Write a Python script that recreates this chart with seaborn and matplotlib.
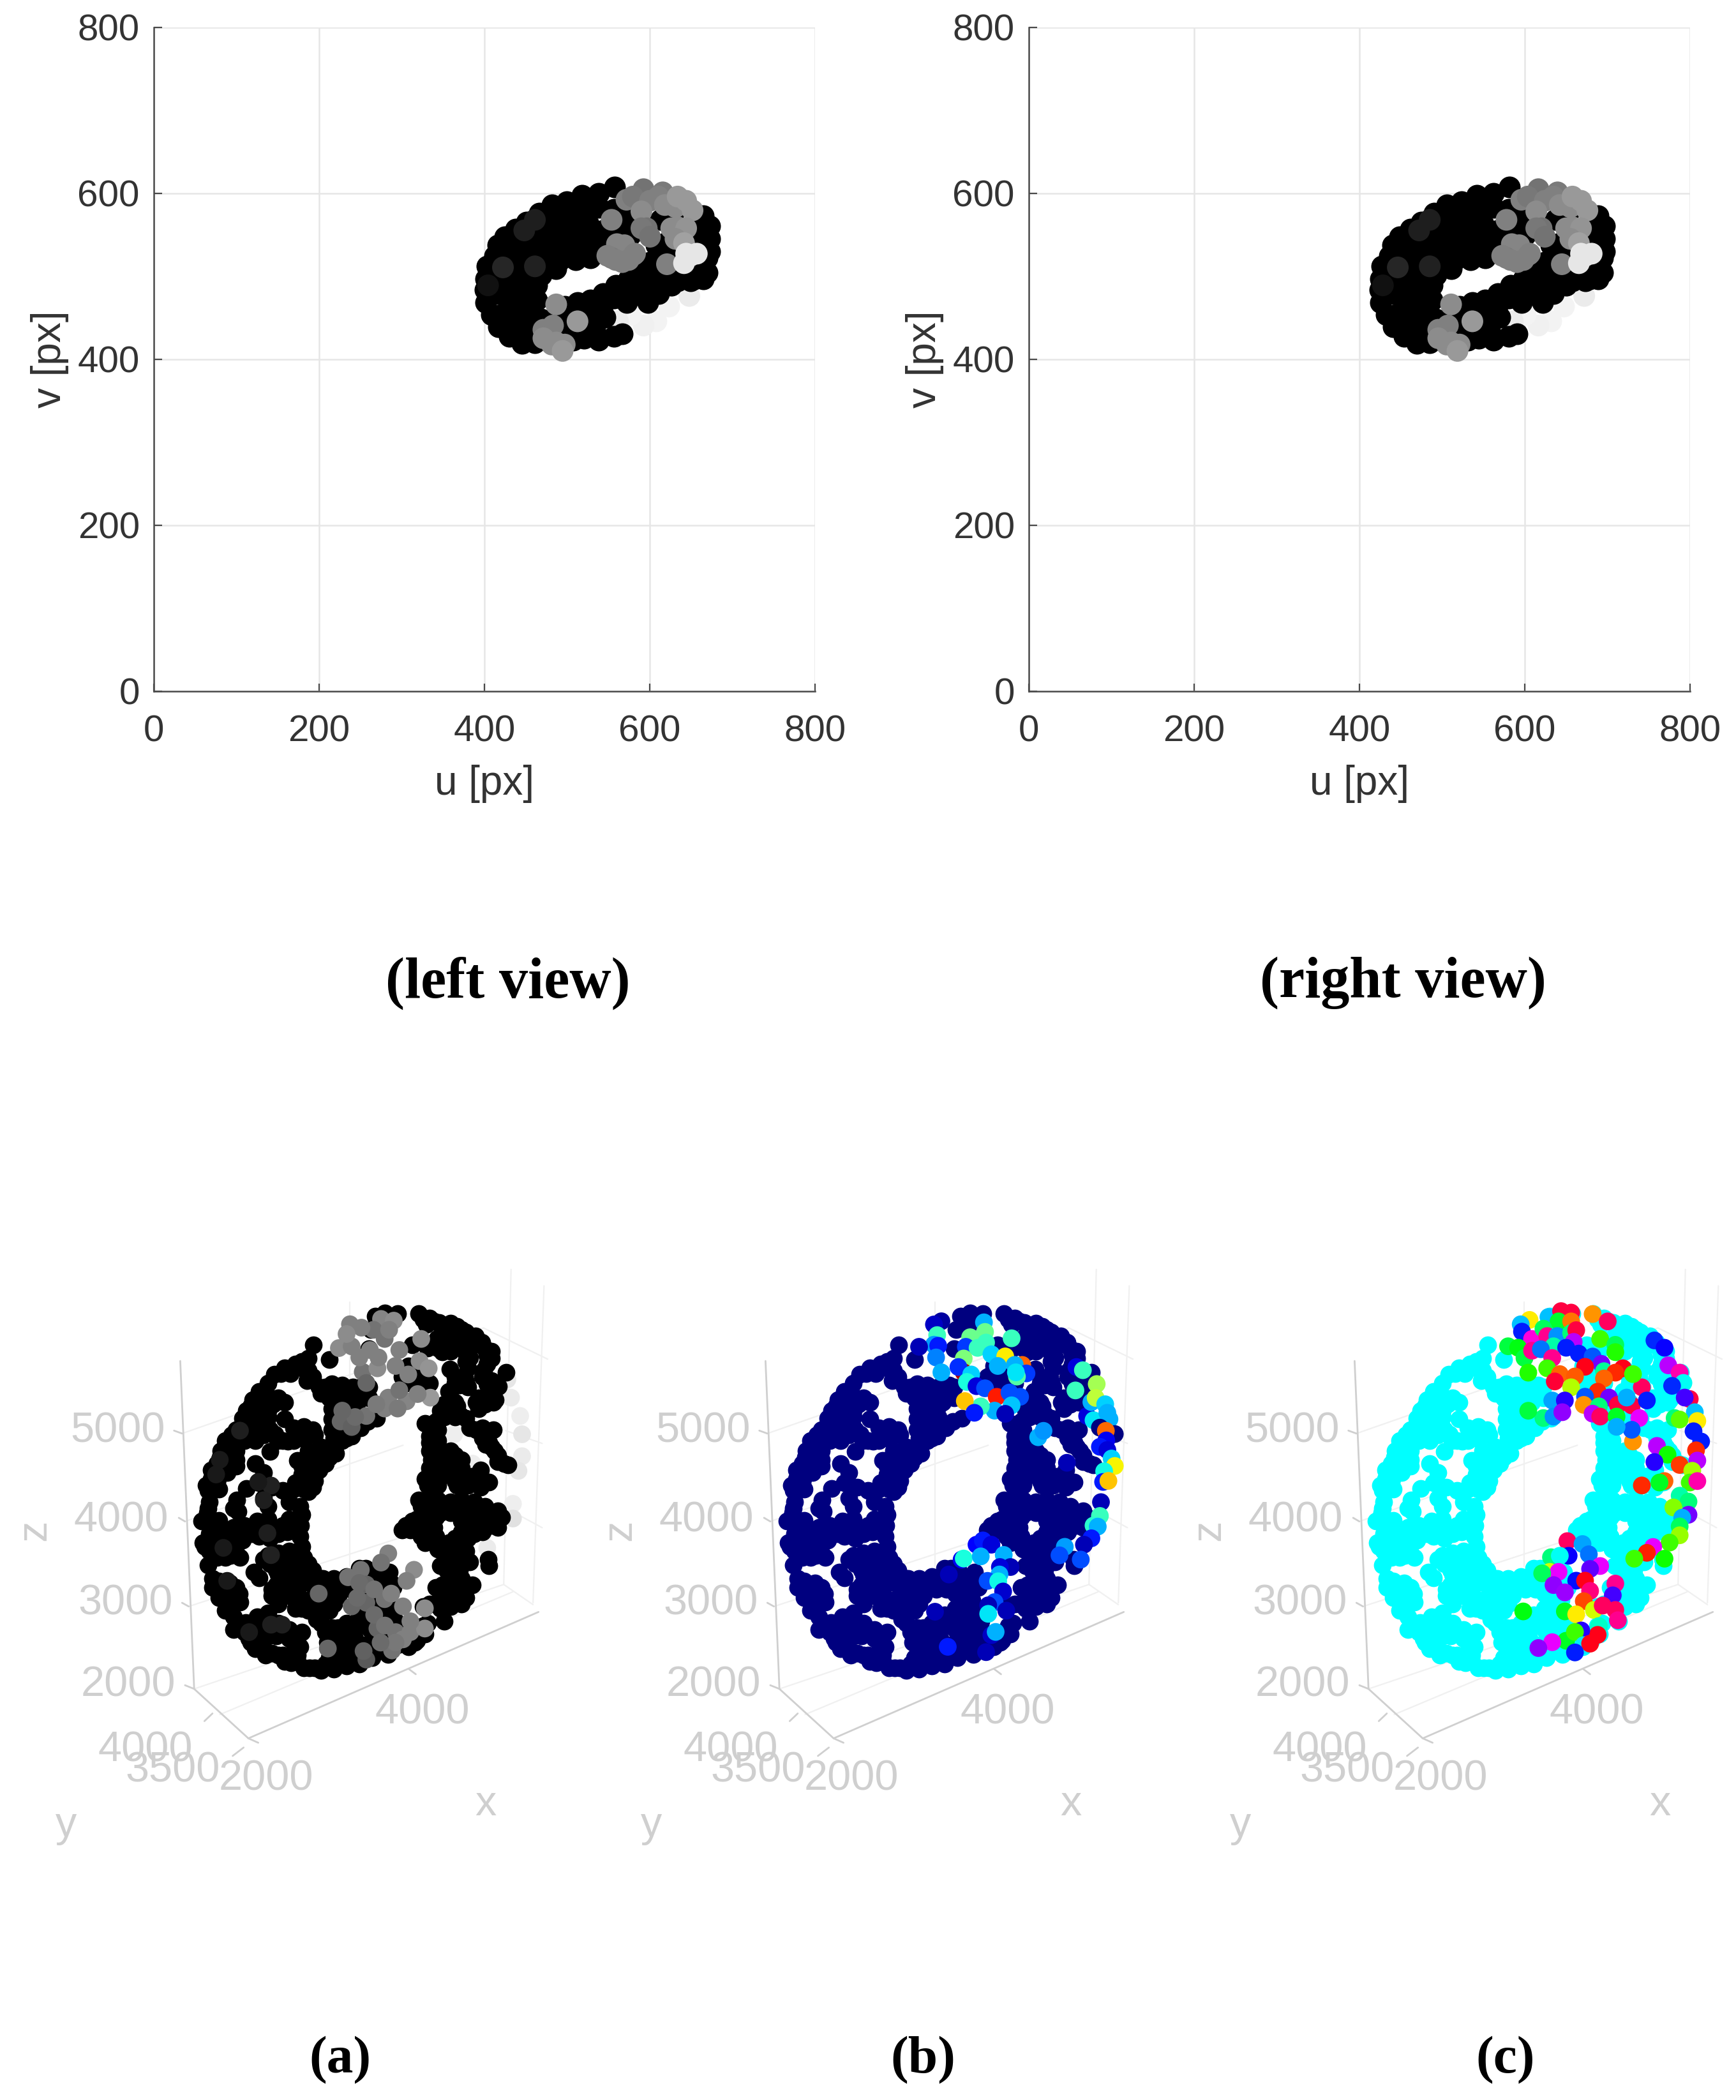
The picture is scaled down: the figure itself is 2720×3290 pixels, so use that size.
# Stereo views and reconstructed torus point clouds
import numpy as np
import pandas as pd
import matplotlib
matplotlib.use("Agg")
import matplotlib.pyplot as plt
import seaborn as sns

FIG_W = 2720
FIG_H = 3290

sns.set_style("white")
plt.rcParams["font.family"] = ["Liberation Sans", "DejaVu Sans"]

# ---- stereo views, points (crop pixels, see to_uv)
view_black = [
    (795,155),(720,185),(640,195),(570,225),(500,240),(440,280),(380,320),(330,355),(280,390),(245,430),
    (230,480),(195,530),(190,590),(185,640),(190,700),(215,760),(250,815),(300,860),(360,895),(420,890),
    (510,280),(580,280),(650,270),(720,250),(400,370),(460,340),(530,340),(600,340),(670,330),
    (340,420),(410,420),(480,400),(550,400),(620,400),(690,410),(300,480),(370,480),(440,470),(510,460),
    (580,460),(650,460),(700,470),(260,540),(330,540),(400,530),(470,520),(540,500),(610,500),(680,490),
    (240,600),(310,600),(380,590),(450,570),(520,540),(300,660),(370,640),(430,620),(240,660),(300,720),
    (370,700),(430,690),(260,760),(330,780),(400,760),(310,840),(370,840),(420,820),
    (620,700),(680,690),(740,660),(800,620),(860,590),(920,570),(970,590),(1020,620),(950,700),(1000,660),
    (600,880),(650,870),(720,880),(790,860),(830,850),(630,850),(700,830),(625,720),(680,720),(740,710),
    (790,680),(850,640),(850,300),(850,350),(870,380),(1010,310),(1040,300),(1070,280),(1210,290),(1220,340),
    (1220,390),(1230,430),(1230,490),(1210,550),(1160,580),(1110,570),(990,430),(1030,420),(1000,480),
    (1040,470),(790,260),(800,350),(740,360),(730,390),(520,780),(450,780),(480,830),
    (560,720),(580,780),(650,790),(700,780),(750,770),(850,700),(900,650),(1060,620),(1090,600),
    (1000,560),(1230,560),(1150,600),(1180,320),(1170,400),(1240,340),(1240,400),(1240,460),
    (1060,570),(1100,590),(1170,590),(1210,590),(560,840),(600,810),(820,640),(940,640),(980,620),
    (930,530),(960,510),(880,580),(910,610),
]
view_grey = [
    (930,165,.45),(1020,180,.48),(850,215,.5),(880,200,.47),(960,220,.5),(1000,200,.5),(1080,250,.55),
    (1130,220,.6),(920,270,.55),(1030,240,.55),(1090,200,.6),(1160,265,.6),(780,310,.5),(945,350,.45),
    (920,350,.47),(960,390,.45),(1060,350,.55),(1090,345,.55),(1130,350,.58),(1080,400,.55),(1120,420,.63),
    (805,425,.52),(840,430,.52),(885,475,.5),(890,470,.5),(780,490,.48),(760,480,.5),(800,500,.5),
    (830,510,.5),(860,500,.5),(1040,520,.5),(520,710,.55),(505,810,.5),(490,830,.5),(460,830,.5),
    (460,870,.55),(520,890,.55),(500,900,.55),(560,900,.55),(550,930,.6),(620,790,.6),
    (420,310,.12),(370,360,.12),(270,535,.15),(420,530,.13),(200,620,.07),
]
view_light_back = [
    (1145,670,.92),(1050,720,.95),(990,790,.95),(930,810,.94),(870,760,.95),(760,810,.88),(810,790,.92),
]
view_light_front = [(1130,470,.9),(1180,470,.9),(1150,480,.9),(1120,515,.9)]

# right image is the left one moved along u
right_view_shift = 24

tick_values = [0, 200, 400, 600, 800]

base_nw = [
    (563,200),(640,270),(540,265),(480,290),(430,310),(380,340),(350,380),(310,420),(330,440),(270,490),
    (300,490),(230,545),(260,540),(350,470),(400,450),(430,470),(350,510),(375,480),(250,510),(345,575),
    (255,575),(290,610),(180,625),(220,610),(175,660),(240,650),(290,650),(340,610),(385,620),(430,548),
    (470,590),(520,585),(560,600),(570,625),(470,650),(420,650),(360,702),(125,730),(180,720),(200,700),
    (100,790),(150,770),(200,770),(85,830),(110,850),(290,760),(330,800),(310,850),(250,875),(370,870),
    (420,885),(70,885),(120,880),(540,320),(535,370),(590,400),(650,385),(700,390),(750,400),(800,390),
    (640,450),(690,440),(740,440),(790,440),(650,500),(700,490),(750,490),(650,550),(700,540),(750,540),
    (650,600),(700,600),(745,630),(785,590),(600,680),(660,680),(700,650),(640,730),(620,760),(490,745),
    (540,700),(550,760),(590,790),(510,810),(570,840),(500,860),(470,880),(540,890),
    (410,335),(455,335),(510,280),(510,310),(300,450),(340,420),(280,460),(310,470),(270,520),(320,500),
    (350,540),(300,575),(230,590),(200,600),(150,650),(210,650),(260,610),(310,620),(360,600),(240,610),
    (330,625),(395,650),(445,655),(495,640),(540,620),(130,700),(160,690),(150,710),(110,760),(160,800),
    (130,800),(85,790),(200,740),(115,830),(60,860),(620,400),(560,350),(600,430),(670,420),(720,415),
    (770,415),(670,470),(720,470),(770,470),(680,520),(730,520),(670,580),(720,570),(680,630),(660,640),
    (720,640),(620,700),(670,710),(600,740),(510,770),(530,730),(560,800),(540,840),(510,850),(520,880),
    (480,850),(560,870),
]
base_ne = [
    (45,65),(90,50),(150,55),(95,95),(25,130),(15,220),(250,55),(300,75),(285,105),(345,95),(400,100),
    (450,130),(410,140),(360,130),(360,190),(360,235),(420,210),(490,170),(490,215),(490,260),(480,310),
    (545,190),(560,220),(590,230),(590,265),(555,320),(550,350),(590,370),(625,395),(420,380),(465,350),
    (480,400),(395,315),(660,330),(170,350),(220,360),(220,200),(290,215),(200,300),(300,380),(400,450),
    (430,490),(520,470),(565,450),(550,480),(600,470),(370,480),(420,540),(370,540),(470,545),(330,560),
    (280,570),(320,610),(300,660),(340,650),(320,700),(350,700),(330,760),(320,810),(290,860),(340,860),
    (400,700),(450,740),(400,760),(380,810),(450,810),(430,860),(480,860),(540,790),(530,840),(580,845),
    (540,870),(490,590),(550,590),(600,600),(550,640),(565,670),(605,700),(620,750),(670,765),(15,400),
    (15,450),(50,545),(10,560),
    (65,90),(120,80),(270,80),(320,90),(375,110),(430,115),(385,160),(335,170),(390,190),(400,230),(340,215),
    (470,140),(470,190),(470,240),(470,280),(510,190),(515,160),(570,250),(570,290),(560,350),(570,385),
    (610,390),(440,370),(420,350),(440,390),(470,375),(190,340),(240,380),(270,400),(190,380),(260,350),
    (390,420),(420,470),(405,510),(350,510),(395,480),(445,530),(530,450),(560,480),(580,450),(530,500),
    (610,460),(310,580),(340,600),(300,630),(330,680),(300,700),(350,730),(310,740),(370,730),(420,720),
    (300,780),(345,790),(410,780),(380,770),(420,840),(350,810),(280,830),(310,880),(450,780),(470,830),
    (500,820),(520,600),(570,610),(580,660),(590,680),(620,720),(650,760),
]
base_sw = [
    (75,40),(65,90),(70,130),(120,125),(190,70),(205,30),(210,85),(330,20),(350,60),(450,40),(500,60),
    (510,100),(450,120),(505,150),(350,120),(300,130),(240,150),(190,160),(115,180),(75,190),(55,250),
    (125,200),(190,230),(230,220),(280,190),(340,180),(400,190),(440,180),(500,200),(175,290),(220,300),
    (70,335),(90,400),(120,410),(90,440),(170,420),(200,440),(120,490),(190,490),(175,540),(220,510),
    (285,370),(310,395),(350,290),(400,280),(450,270),(510,250),(520,300),(360,330),(420,330),(480,320),
    (540,330),(400,380),(450,360),(500,370),(550,380),(610,400),(660,400),(720,390),(780,350),(390,430),
    (370,480),(430,440),(500,430),(560,430),(620,450),(680,450),(740,450),(790,450),(500,490),(560,490),
    (620,500),(660,520),(480,540),(540,550),(600,560),(200,600),(245,605),(300,580),(350,560),(190,640),
    (240,650),(290,620),(340,620),(400,610),(270,700),(320,720),(370,750),(320,680),(390,670),(450,640),
    (470,700),(510,650),(600,610),(650,630),(720,610),(780,620),(640,670),(690,660),(650,720),(700,720),
    (760,740),(640,770),(700,780),(770,780),(460,795),(490,760),(545,820),(600,830),(660,825),(720,810),
    (780,800),(420,760),(780,570),(760,680),
    (70,70),(60,110),(100,150),(40,130),(45,230),(95,200),(75,270),(110,300),(150,300),(200,280),(160,260),
    (140,230),(200,200),(250,190),(310,170),(370,160),(420,150),(470,160),(360,210),(310,200),(345,140),
    (250,160),(330,310),(380,310),(440,300),(490,290),(390,360),(440,390),(470,330),(510,350),(560,360),
    (530,400),(600,400),(640,430),(700,420),(760,410),(800,420),(590,450),(650,480),(680,480),(600,530),
    (640,550),(580,590),(450,480),(410,470),(400,520),(370,450),(420,410),(470,470),(530,520),(510,540),
    (110,440),(150,460),(150,510),(215,470),(160,430),(150,550),(190,580),(230,620),(270,640),(260,680),
    (310,650),(360,650),(355,670),(420,650),(300,690),(290,730),(340,760),(400,760),(480,740),(450,680),
    (500,720),(470,760),(430,790),(490,790),(630,700),(680,690),(730,650),(760,640),(730,700),(750,720),
    (680,750),(730,750),(620,650),(680,630),(740,780),(670,790),(620,800),(570,820),(520,820),
]
base_se = [
    (280,40),(340,30),(260,60),(330,70),(400,40),(450,30),(510,40),(560,60),(620,80),(460,80),(400,90),
    (330,110),(270,100),(220,130),(170,170),(210,170),(270,150),(320,160),(450,130),(510,130),(560,140),
    (620,160),(450,180),(510,190),(550,180),(260,200),(310,220),(340,260),(390,230),(450,230),(490,320),
    (430,280),(380,290),(350,340),(400,340),(440,360),(420,410),(360,430),(500,430),(470,430),(430,460),
    (470,490),(410,510),(360,490),(370,600),(350,540),(400,530),(300,520),(290,610),(280,660),(240,690),
    (580,340),(575,310),(130,440),(80,470),(30,420),(20,470),(60,440),(110,370),(40,370),(0,350),(40,520),
    (90,530),(120,560),(30,580),(80,600),(130,640),(40,640),(70,680),(110,710),(20,700),(30,770),(105,755),
    (200,700),(140,690),
    (250,30),(300,50),(370,60),(430,60),(490,60),(540,90),(590,110),(640,110),(480,110),(540,150),(590,150),
    (350,90),(300,90),(240,120),(190,150),(240,160),(300,130),(300,190),(280,230),(330,200),(470,150),
    (480,210),(520,160),(420,210),(430,250),(370,270),(470,270),(400,310),(440,320),(370,320),(380,360),
    (410,380),(450,400),(390,410),(400,440),(450,450),(360,460),(330,440),(400,480),(440,490),(450,520),
    (380,510),(350,510),(320,520),(270,530),(260,660),(270,620),(230,700),(200,720),(150,710),(100,690),
    (60,720),(80,640),(110,610),(60,560),(100,570),(140,600),(20,540),(60,610),(20,610),(20,640),(100,500),
    (40,470),(70,500),(120,420),(90,410),(20,400),(60,400),(130,690),(180,660),(100,730),
]

# coloured points of panel (b): crop x, crop y, jet value
jet_nw = [
    (765,90,.03),(730,105,.06),(745,155,.42),(730,200,.28),(750,205,.15),(660,210,.05),(740,260,.25),
    (765,330,.3),
]
jet_ne = [
    (155,95,.3),(90,165,.48),(160,140,.48),(70,210,.18),(125,215,.42),(165,190,.42),(190,245,.33),
    (285,170,.42),(255,255,.66),(220,300,.3),(335,295,.8),(300,295,.3),(355,335,.18),(310,350,.45),
    (305,330,.35),(60,265,.5),(60,330,.95),(35,305,.17),(95,340,.33),(75,375,.38),(120,395,.08),
    (160,405,.2),(215,445,.88),(275,425,.2),(325,445,.2),(285,485,.32),(205,510,.3),(255,525,.05),
    (140,490,.42),(65,465,.7),(110,520,.15),(590,305,.08),(620,320,.42),(585,415,.42),(640,535,.08),
    (670,555,.35),(660,470,.3),(685,385,.55),(680,450,.58),(725,480,.33),(735,520,.3),(745,550,.3),
    (700,590,0),(770,620,0),(728,605,.8),(730,650,.1),(700,680,.15),(735,695,.08),(755,735,.33),
    (770,770,.65),(720,795,.37),(715,845,.15),(740,840,.7),(410,635,.3),(435,605,.27),(545,755,.05),
]
jet_sw = [(800,380,.05),(795,720,.15),(735,555,.05)]
jet_se = [
    (705,40,.05),(700,105,.42),(670,150,.4),(690,155,.3),(660,210,.15),(625,240,.05),(610,310,.2),
    (535,250,.28),(510,290,.2),(120,240,.12),(150,220,.15),(190,240,.08),(50,310,.1),(60,305,.38),
    (140,295,.3),(248,288,.3),(280,345,.05),(230,345,.08),(228,380,.3),(172,410,.2),(222,412,.37),
    (245,460,.07),(205,510,.2),(175,525,.05),(175,565,.35),(260,550,.05),(190,665,.06),(210,650,.3),
    (165,745,.05),
]

# grey points of panel (a), same frame as the merged crops
grey_light = [
    (1476,363,.9),(1493,449,.92),(1536,535,.93),(1545,621,.9),(1545,724,.92),(1528,793,.9),(1502,948,.93),
    (1502,1017,.88),(1243,483,.92),(1226,621,.93),(1278,862,.93),(1312,759,.93),(1381,1155,.92),
]
grey_mid = [
    (736,104,.5),(882,79,.52),(942,87,.55),(847,130,.45),(899,173,.45),(968,225,.5),(684,216,.55),
    (744,208,.5),(830,225,.5),(1063,277,.55),(1106,311,.58),(1071,173,.55),(796,328,.45),(813,380,.4),
    (865,311,.55),(916,449,.5),(1002,466,.52),(1114,449,.6),(899,500,.5),(813,535,.45),(692,561,.4),
    (744,587,.38),(968,414,.45),(1054,432,.5),(916,1181,.5),(882,1224,.45),(1037,1258,.55),(1002,1310,.5),
    (727,1293,.45),(787,1258,.45),(813,1327,.4),(744,1430,.4),(813,1413,.4),(899,1396,.45),(985,1430,.5),
    (1088,1439,.55),(865,1534,.4),(951,1551,.45),(1020,1551,.5),(1088,1534,.55),(934,1637,.45),
    (813,1680,.35),(985,1585,.5),(589,1370,.4),(632,1628,.4),
    (790,120,.5),(920,130,.5),(720,150,.55),(780,260,.5),(870,260,.5),(950,300,.5),(1010,340,.5),
    (960,500,.48),(860,480,.48),(760,540,.42),(700,510,.4),(780,1320,.42),(850,1350,.45),(930,1370,.5),
    (770,1390,.42),(850,1470,.42),(900,1520,.45),(950,1600,.47),(1020,1500,.5),(880,1600,.42),(800,1640,.38),
]
grey_dark = [
    (219,604,.12),(124,741,.1),(107,810,.1),(365,862,.13),(305,845,.1),(331,931,.12),(348,1086,.12),
    (141,1155,.1),(159,1310,.1),(262,1551,.1),(365,1516,.12),(417,1516,.12),(365,1189,.13),
]

# coloured points of panel (c): crop x, crop y, hue
hue_points = [
    (750,235,.16),(715,250,.55),(720,275,.66),(760,300,.87),(665,325,.38),(705,330,.35),(730,365,.38),
    (760,340,.92),(825,225,.55),(875,205,.97),(915,210,.97),(865,240,.37),(915,240,.08),(805,265,.4),
    (820,290,.92),(860,290,.58),(915,280,.42),(935,270,.97),(925,310,.8),(845,325,.45),(795,335,.6),
    (895,330,.66),(945,350,.66),(840,365,.92),(1000,215,.1),(1060,240,.95),(1030,300,.3),(1090,320,.4),
    (1090,345,.32),(1000,360,.62),(1035,385,.75),(1045,410,.44),(970,395,1.0),(1120,400,1.0),(1090,415,.03),
    (1045,435,.07),(745,415,.32),(820,400,.3),(870,420,.07),(930,428,.06),(850,445,.98),(915,465,.22),
    (1020,480,.03),(970,497,.62),(1065,500,.75),(840,510,.57),(890,510,.7),(1100,525,.97),(1155,527,.97),
    (1135,500,.56),(965,525,.1),(1025,530,.42),(805,570,.42),(845,565,.58),(880,550,.77),(1000,555,.8),
    (1030,565,.95),(1095,565,.36),(745,545,.38),(1185,570,.83),(1195,465,.95),(1160,420,.3),(1215,510,.66),
    (1245,305,.65),(1285,330,.68),(1300,390,.8),(1345,415,.9),(1360,450,.5),(1315,460,.65),(1385,505,.97),
    (1365,500,.72),(1405,550,.55),(1415,580,.16),(1400,615,.66),(1325,570,.42),(1345,575,.28),(1430,650,.66),
    (1410,680,.03),(1255,665,.8),(1297,695,.33),(1245,720,.7),(1345,730,.04),(1415,715,.8),(1395,750,.23),
    (1385,790,.3),(1415,785,.9),(1285,785,.07),(1265,790,.36),(1195,800,.03),(1160,650,.1),(1155,610,.62),
    (1095,600,.56),(1345,835,.45),(1380,855,.42),(1320,875,.25),(1380,900,.75),(1355,910,.56),(1345,940,.4),
    (1345,970,.24),(1305,995,.3),(1240,1010,.83),(1285,1050,.33),(1215,1030,.02),(1165,1050,.3),
    (900,990,.95),(960,1000,.57),(985,1035,.6),(905,1040,.68),(835,1045,.42),(870,1040,.5),(1030,1075,.83),
    (990,1085,.74),(830,1095,.2),(865,1095,.83),(800,1100,.4),(935,1125,.67),(970,1125,1.0),(845,1140,.77),
    (890,1165,.78),(990,1160,.93),(1090,1135,.92),(1080,1175,.72),(965,1195,.05),(890,1230,.36),
    (935,1240,.16),(1005,1225,.2),(1040,1210,.95),(1090,1225,.95),(1100,1260,.92),(1025,1280,.47),
    (1020,1310,1.0),(955,1295,.7),(895,1330,.36),(930,1300,.3),(965,1345,.52),(990,1340,1.0),(930,1370,.66),
    (840,1335,.83),(785,1355,.77),(725,1230,.35),
]

box_dark = [
    [(492,300),(530,1195),(678,1330),(1470,985)],
    [(475,490),(497,498)],[(488,728),(505,738)],[(497,960),(515,970)],[(505,1185),(530,1195)],
    [(1115,1140),(1135,1155)],[(678,1330),(705,1342)],[(558,1283),(580,1262)],[(635,1378),(665,1355)],
]
box_faint = [
    [(530,1195),(1375,910)],[(678,1330),(530,1195)],[(1375,910),(1455,965)],[(1395,50),(1375,910)],
    [(1485,95),(1455,960)],[(497,498),(1320,210)],[(1320,210),(1495,295)],[(505,738),(1100,530)],
    [(515,970),(1100,780)],[(955,140),(955,860)],[(1380,490),(1480,525)],[(1378,700),(1480,755)],
    [(600,1265),(1400,930)],
]
box_ticks = [
    ("5000",322,492),("4000",330,736),("3000",342,962),("2000",350,1186),("4000",1153,1261),
    ("2000",727,1442),("3500",472,1419),("4000",397,1364),
]
box_names = [("z",95,762,90),("x",1325,1510,0),("y",180,1568,0)]
panel_left = [0, 917, 1840]
panel_names = ["(a)", "(b)", "(c)"]
panel_name_x = [533, 1446, 2359]


def px_axes(fig, left, top, width, height):
    return fig.add_axes([left / FIG_W, 1 - (top + height) / FIG_H, width / FIG_W, height / FIG_H])


def to_uv(points, shift=0):
    # crop pixels of the left image to image coordinates
    arr = np.array(points, dtype=float)
    frame = pd.DataFrame({"u": 400 + (arr[:, 0] - 183) / 3.88 + shift, "v": 600 - (arr[:, 1] - 185) / 3.925})
    if arr.shape[1] == 3:
        frame["level"] = arr[:, 2]
    return frame


def merged(nw, ne, sw, se):
    # the four crops of the panel joined in one frame
    parts = []
    for pts, dx, dy in [(nw, 0, 0), (ne, 810, 0), (sw, 0, 900), (se, 810, 900)]:
        arr = np.array(pts, dtype=float)
        arr[:, 0] += dx
        arr[:, 1] += dy
        parts.append(arr)
    return np.vstack(parts)


def box_xy(pts):
    arr = np.array(pts, dtype=float)
    return 1.722 * arr[:, 0] - 909, 1.722 * arr[:, 1] - 240


def scatter_levels(ax, frame, x, y, palette, size):
    sns.scatterplot(data=frame, x=x, y=y, hue="level", palette=plt.get_cmap(palette), hue_norm=(0, 1),
                    s=size, linewidth=0, legend=False, ax=ax, clip_on=False)


fig = plt.figure(figsize=(FIG_W / 200, FIG_H / 200), dpi=200, facecolor="white")

# 1. Stereo views
for left, shift, title, title_x in [(241, 0, "(left view)", 796), (1612, right_view_shift, "(right view)", 2198)]:
    ax = px_axes(fig, left, 43, 1036, 1040)
    scatter_levels(ax, to_uv(view_light_back, shift), "u", "v", "gray", 150)
    sns.scatterplot(data=to_uv(view_black, shift), x="u", y="v", color="black", s=150, linewidth=0, ax=ax)
    scatter_levels(ax, to_uv(view_grey, shift), "u", "v", "gray", 150)
    scatter_levels(ax, to_uv(view_light_front, shift), "u", "v", "gray", 150)
    ax.set_xlim(0, 800)
    ax.set_ylim(0, 800)
    ax.set_xticks(tick_values)
    ax.set_yticks(tick_values)
    ax.grid(True, color="#e6e6e6", linewidth=0.9)
    ax.set_axisbelow(True)
    sns.despine(ax=ax)
    for side in ["left", "bottom"]:
        ax.spines[side].set_color("#4a4a4a")
        ax.spines[side].set_linewidth(0.9)
    ax.tick_params(direction="in", length=4.5, width=0.8, color="#4a4a4a", labelcolor="#333333",
                   labelsize=21, bottom=True, left=True)
    ax.tick_params(axis="x", pad=13)
    ax.tick_params(axis="y", pad=8)
    ax.set_xlabel("u [px]", fontsize=23, color="#333333", labelpad=9)
    ax.set_ylabel("v [px]", fontsize=23, color="#333333", labelpad=5)
    fig.text(title_x / FIG_W, 1 - 1540 / FIG_H, title, family="Liberation Serif", weight="bold",
             fontsize=32.5, ha="center", va="center", color="black")

# 2. Torus point clouds
base_pts = merged(base_nw, base_ne, base_sw, base_se)
base_df = pd.DataFrame({"x": base_pts[:, 0], "y": base_pts[:, 1]})

jet_pts = merged(jet_nw, jet_ne, jet_sw, jet_se)
jet_df = pd.DataFrame({"x": jet_pts[:, 0], "y": jet_pts[:, 1], "level": jet_pts[:, 2]})

grey_back_df = pd.DataFrame(grey_light, columns=["x", "y", "level"])
grey_front_df = pd.DataFrame(grey_dark + grey_mid, columns=["x", "y", "level"])

hue_arr = np.array(hue_points, dtype=float)
hue_df = pd.DataFrame({"x": 1.186 * hue_arr[:, 0] - 129, "y": 1.377 * hue_arr[:, 1] - 240, "level": hue_arr[:, 2]})

base_colors = ["black", "#00007f", "#00ffff"]
torus_size = 100

for i in range(3):
    ax = px_axes(fig, panel_left[i], 1950, 880, 950)
    ax.set_xlim(-909, 1731)
    ax.set_ylim(2580, -270)

    for seg in box_faint:
        sx, sy = box_xy(seg)
        ax.plot(sx, sy, color="#f0f0f0", linewidth=0.8, zorder=0)
    for seg in box_dark:
        sx, sy = box_xy(seg)
        ax.plot(sx, sy, color="#cfcfcf", linewidth=1.0, zorder=0)

    if i == 0:
        scatter_levels(ax, grey_back_df, "x", "y", "gray", torus_size)
    sns.scatterplot(data=base_df, x="x", y="y", color=base_colors[i], s=torus_size, linewidth=0, ax=ax)
    if i == 0:
        scatter_levels(ax, grey_front_df, "x", "y", "gray", torus_size)
    if i == 1:
        scatter_levels(ax, jet_df, "x", "y", "jet", torus_size)
    if i == 2:
        scatter_levels(ax, hue_df, "x", "y", "hsv", torus_size)
    ax.set_xlim(-909, 1731)
    ax.set_ylim(2580, -270)
    ax.axis("off")

    for label, lx, ly in box_ticks:
        tx, ty = box_xy([(lx, ly)])
        ax.text(tx[0], ty[0], label, fontsize=24, color="#cfcfcf", ha="center", va="center")
    for label, lx, ly, rot in box_names:
        tx, ty = box_xy([(lx, ly)])
        ax.text(tx[0], ty[0], label, fontsize=24, color="#cfcfcf", ha="center", va="center", rotation=rot)

    fig.text(panel_name_x[i] / FIG_W, 1 - 3228 / FIG_H, panel_names[i], family="Liberation Serif",
             weight="bold", fontsize=30, ha="center", va="center", color="black")

fig.savefig("out.png", dpi=200)
